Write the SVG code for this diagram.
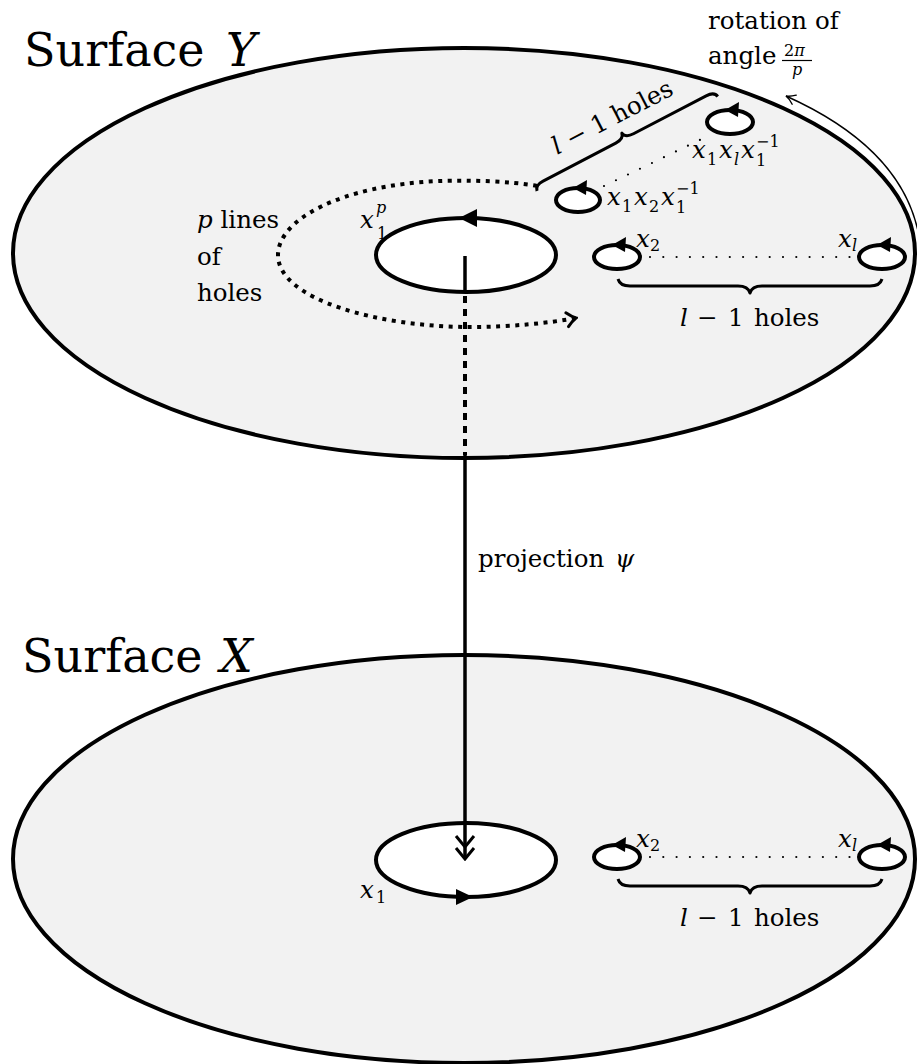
<svg xmlns="http://www.w3.org/2000/svg" width="917" height="1064" viewBox="0 0 917 1064">
<style>
text{font-family:"DejaVu Serif","Liberation Serif","Noto Serif",serif;fill:#000}
.t{font-size:24.5px}
.big{font-size:46px}
.m{font-style:italic}
.s{font-size:16px}
.surf{fill:#f2f2f2;stroke:#000;stroke-width:4}
.hole{fill:#fff;stroke:#000;stroke-width:4}
.ah{fill:#000}
.dots{fill:none;stroke:#000;stroke-width:2.2;stroke-linecap:round;stroke-dasharray:0 13.3}
.brace{fill:none;stroke:#000;stroke-width:3;stroke-linejoin:round}
.line{fill:none;stroke:#000;stroke-width:3.5}
</style>
<defs>
<marker id="open" markerUnits="userSpaceOnUse" viewBox="-12 -8 14 16" refX="0" refY="0" markerWidth="14" markerHeight="16" orient="auto">
<path d="M-9 -5 Q-4 -1 0 0 Q-4 1 -9 5" fill="none" stroke="#000" stroke-width="1.4" stroke-linecap="round"/>
</marker>
<marker id="openb" markerUnits="userSpaceOnUse" viewBox="-14 -10 16 20" refX="0" refY="0" markerWidth="16" markerHeight="20" orient="auto">
<path d="M-9 -7 Q-4 -2 0 0 Q-4 2 -9 7" fill="none" stroke="#000" stroke-width="3" stroke-linecap="round"/>
</marker>
<marker id="dbl" markerUnits="userSpaceOnUse" viewBox="-28 -12 30 24" refX="0" refY="0" markerWidth="30" markerHeight="24" orient="auto">
<path d="M-11 -9 L0 0 L-11 9 M-23 -9 L-12 0 L-23 9" fill="none" stroke="#000" stroke-width="3"/>
</marker>
<path id="ah" d="M-5 -12 L9 -20 L8 -5 Z"/>
</defs>

<!-- Surfaces -->
<g id="surface-Y">
<ellipse class="surf" cx="464" cy="253" rx="451" ry="205"/>
<text class="big" x="24" y="66">Surface <tspan class="m" x="226">Y</tspan></text>
</g>
<g id="surface-X">
<ellipse class="surf" cx="464" cy="859" rx="451" ry="204"/>
<text class="big" x="22" y="672">Surface <tspan class="m" x="220">X</tspan></text>
</g>

<!-- dotted arc: p lines of holes -->
<g id="connectors-arc">
<path d="M537 186 C510 181 470 180 440 181 C340 185 278 220 278 255 C278 300 380 327 470 327 C510 327 550 323 576 318" fill="none" stroke="#000" stroke-width="4" stroke-dasharray="4 5.5" marker-end="url(#openb)"/>
</g>
<g id="label-p-lines">
<text class="t" x="197" y="228"><tspan class="m">p</tspan> lines</text>
<text class="t" x="197" y="265">of</text>
<text class="t" x="197" y="301">holes</text>
</g>

<!-- central hole Y -->
<g id="hole-Y-center">
<text class="t m" x="360" y="228">x<tspan class="s" x="376" y="213">p</tspan><tspan class="s" style="font-style:normal" x="377" y="239">1</tspan></text>
<ellipse class="hole" cx="466" cy="255" rx="90" ry="37"/>
<path class="ah" d="M459 218 L477 209 L477 227 Z"/>
</g>

<!-- small holes Y row -->
<g id="hole-Y-x2">
<ellipse class="hole" cx="617" cy="257" rx="23" ry="12"/>
<use href="#ah" x="617" y="257"/>
<text class="t m" x="636" y="247">x<tspan class="s" style="font-style:normal" x="650" y="251">2</tspan></text>
</g>
<g id="hole-Y-xl">
<ellipse class="hole" cx="882" cy="257" rx="23" ry="12"/>
<use href="#ah" x="882" y="257"/>
<text class="t m" x="838" y="247">x<tspan class="s" x="852" y="251">l</tspan></text>
</g>
<g id="brace-Y-row">
<path class="brace" d="M618 279 Q620 286 630 286 L738 286 Q748 286 750 293 Q752 286 762 286 L870 286 Q880 286 882 279"/>
<text class="t"><tspan class="m" x="680" y="326">l</tspan><tspan x="697" y="326">−</tspan><tspan x="728" y="326">1</tspan><tspan x="754" y="326">holes</tspan></text>
</g>

<!-- tilted holes -->
<g id="hole-Y-x1x2x1">
<ellipse class="hole" cx="578" cy="200" rx="22" ry="12"/>
<use href="#ah" x="578" y="200"/>
<text class="t m" x="607" y="205">x<tspan class="s" style="font-style:normal" x="622" y="212">1</tspan><tspan x="634" y="205">x</tspan><tspan class="s" style="font-style:normal" x="649" y="212">2</tspan><tspan x="661" y="205">x</tspan><tspan class="s" style="font-style:normal" x="676" y="213">1</tspan><tspan class="s" style="font-style:normal" x="676" y="194">−1</tspan></text>
</g>
<g id="hole-Y-x1xlx1">
<ellipse class="hole" cx="730" cy="122" rx="23" ry="12"/>
<use href="#ah" x="730" y="122"/>
<text class="t m" x="692" y="158">x<tspan class="s" style="font-style:normal" x="707" y="165">1</tspan><tspan x="719" y="158">x</tspan><tspan class="s" x="734" y="165">l</tspan><tspan x="741" y="158">x</tspan><tspan class="s" style="font-style:normal" x="756" y="166">1</tspan><tspan class="s" style="font-style:normal" x="756" y="147">−1</tspan></text>
</g>
<g id="brace-Y-tilted">
<path class="brace" stroke-width="4.5" transform="translate(537 191) rotate(-27.6)" d="M0 0 Q1 -6 10 -6 L92 -6 Q101 -6 102 -12 Q103 -6 112 -6 L194 -6 Q203 -6 204 0"/>
<text class="t" transform="translate(616 124.5) rotate(-27.4)" text-anchor="middle"><tspan class="m">l</tspan> − 1 holes</text>
</g>

<!-- rotation label -->
<g id="label-rotation">
<text class="t" x="708" y="29">rotation of</text>
<text class="t" x="708" y="64">angle</text>
<text class="s" x="784" y="56">2<tspan class="m">π</tspan><tspan class="m" x="792" y="75">p</tspan></text>
<line x1="782" y1="60.5" x2="812" y2="60.5" stroke="#000" stroke-width="1.2"/>
</g>

<!-- bottom surface X holes -->
<g id="hole-X-center">
<ellipse class="hole" cx="466" cy="860" rx="90" ry="37"/>
<path class="ah" d="M473 897 L456 889 L456 905 Z"/>
<text class="t m" x="360" y="898">x<tspan class="s" style="font-style:normal" x="376" y="903">1</tspan></text>
</g>
<g id="hole-X-x2">
<ellipse class="hole" cx="617" cy="857" rx="23" ry="12"/>
<use href="#ah" x="617" y="857"/>
<text class="t m" x="636" y="847">x<tspan class="s" style="font-style:normal" x="650" y="851">2</tspan></text>
</g>
<g id="hole-X-xl">
<ellipse class="hole" cx="882" cy="857" rx="23" ry="12"/>
<use href="#ah" x="882" y="857"/>
<text class="t m" x="838" y="847">x<tspan class="s" x="852" y="851">l</tspan></text>
</g>
<g id="brace-X-row">
<path class="brace" d="M618 879 Q620 886 630 886 L738 886 Q748 886 750 893 Q752 886 762 886 L870 886 Q880 886 882 879"/>
<text class="t"><tspan class="m" x="680" y="926">l</tspan><tspan x="697" y="926">−</tspan><tspan x="728" y="926">1</tspan><tspan x="754" y="926">holes</tspan></text>
</g>

<!-- connectors -->
<g id="connectors">
<line class="dots" x1="650" y1="257" x2="855" y2="257"/>
<line class="dots" x1="650" y1="857" x2="855" y2="857"/>
<line class="dots" x1="604" y1="186" x2="704" y2="138"/>
<path class="line" d="M465 256 L465 292"/>
<path d="M465 296 L465 455" fill="none" stroke="#000" stroke-width="4" stroke-dasharray="7 6"/>
<path class="line" d="M465 455 L465 859" marker-end="url(#dbl)"/>
<path d="M919 236 C905 160 835 118 786 96" fill="none" stroke="#000" stroke-width="1.4" marker-end="url(#open)"/>
<text class="t" x="478" y="567">projection <tspan class="m" x="615">ψ</tspan></text>
</g>
</svg>
